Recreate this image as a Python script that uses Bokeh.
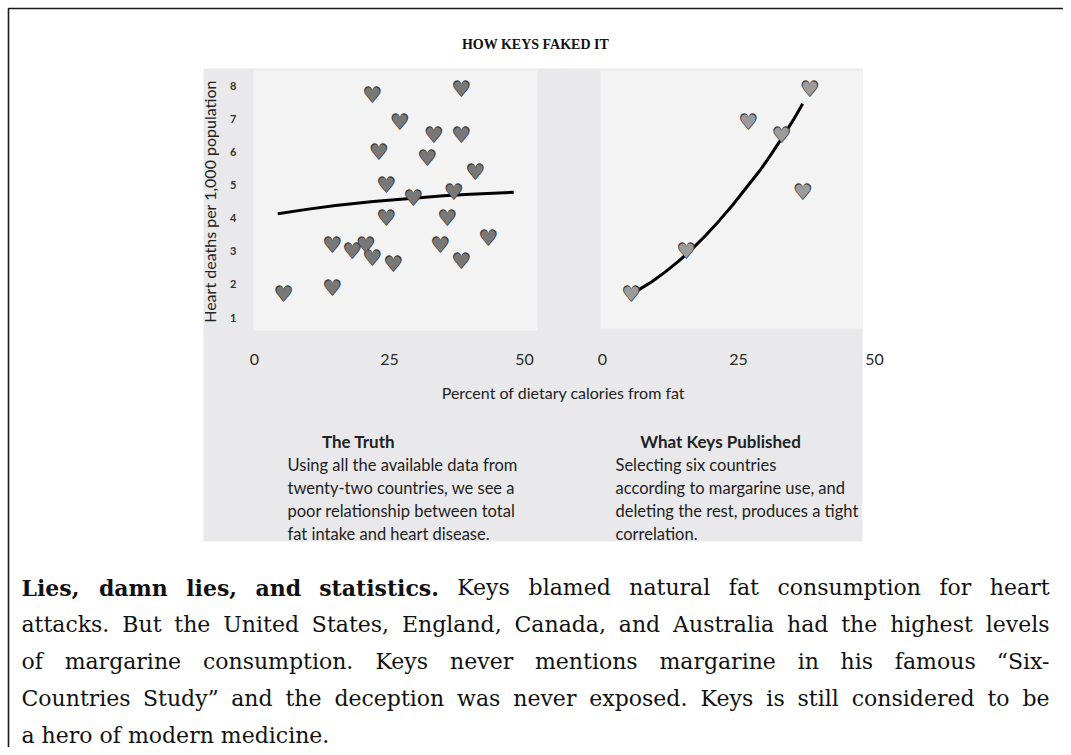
from bokeh.plotting import figure
from bokeh.models import Range1d, LinearAxis, FixedTicker
from bokeh.core.properties import value
from bokeh.embed import file_html
from bokeh.resources import INLINE

# ---------------- data ----------------
title = "HOW KEYS FAKED IT"
x_axis_title = "Percent of dietary calories from fat"
y_axis_title = "Heart deaths per 1,000 population"
x_ticks = [0, 25, 50]
y_ticks = [1, 2, 3, 4, 5, 6, 7, 8]

# "The Truth": all countries
all_fat = [5.4, 14.4, 14.4, 18.1, 20.6, 21.8, 21.8, 23.0, 24.4, 24.4, 25.7, 26.9,
           29.4, 32.0, 33.2, 34.4, 35.7, 36.9, 38.3, 38.3, 38.3, 40.9, 43.3]
all_deaths = [1.7, 1.9, 3.2, 3.0, 3.2, 2.8, 7.7, 6.0, 5.0, 4.0, 2.6, 6.9,
              4.6, 5.8, 6.5, 3.2, 4.0, 4.8, 7.9, 6.5, 2.7, 5.4, 3.4]
truth_fit_fat = [4.3, 10.0, 15.0, 22.0, 29.4, 35.0, 40.0, 48.0]
truth_fit_deaths = [4.13, 4.27, 4.38, 4.50, 4.60, 4.67, 4.72, 4.78]

# "What Keys Published": six countries
six_fat = [5.3, 15.4, 26.8, 32.9, 36.8, 38.1]
six_deaths = [1.7, 3.0, 6.9, 6.5, 4.8, 7.9]
keys_fit_fat = [6.4, 9.0, 11.5, 14.0, 16.5, 19.0, 21.5, 24.0, 26.5, 29.0,
                31.0, 33.0, 35.0, 36.8]
keys_fit_deaths = [1.81, 2.07, 2.37, 2.70, 3.07, 3.48, 3.93, 4.41, 4.93, 5.45,
                   5.92, 6.42, 6.94, 7.45]

panel_titles = ["The Truth", "What Keys Published"]
truth_text = ["Using all the available data from",
              "twenty-two countries, we see a",
              "poor relationship between total",
              "fat intake and heart disease."]
keys_text = ["Selecting six countries",
             "according to margarine use, and",
             "deleting the rest, produces a tight",
             "correlation."]

caption_lines = [
    "Lies, damn lies, and statistics. Keys blamed natural fat consumption for heart",
    "attacks. But the United States, England, Canada, and Australia had the highest levels",
    "of margarine consumption. Keys never mentions margarine in his famous \u201cSix-",
    "Countries Study\u201d and the deception was never exposed. Keys is still considered to be",
    "a hero of modern medicine.",
]
caption_bold_words = 5

# ---------------- layout (page pixels) ----------------
W, H = 1063, 747
BORDER = 8
IMG = dict(left=203, right=862, top=68, bottom=541)
PANEL_L = dict(left=253, right=537, top=70, bottom=330)
PANEL_R = dict(left=600, right=862, top=70, bottom=328)
LX0, LX50 = 254, 524      # page x of 0 and 50 (left panel)
RX0, RX50 = 602, 874      # page x of 0 and 50 (right panel)
Y8, Y1 = 85, 317          # page y of 8 and 1

p = figure(width=W, height=H,
           x_range=Range1d(0, W), y_range=Range1d(H, 0),
           x_axis_location=None, y_axis_location=None,
           toolbar_location=None, output_backend="svg", min_border=0)
p.grid.visible = False
p.outline_line_color = None
p.background_fill_color = "white"
p.border_fill_color = "white"


def data_range(pa, pb, va, vb, lo, hi):
    s = (vb - va) / (pb - pa)
    return Range1d(start=va + (lo - pa) * s, end=va + (hi - pa) * s)


p.extra_x_ranges = {
    "lx": data_range(LX0, LX50, 0, 50, 0, W),
    "rx": data_range(RX0, RX50, 0, 50, 0, W),
}
p.extra_y_ranges = {"dy": data_range(Y1, Y8, 1, 8, H, 0)}

# frame lines (top and left)
p.line(x=[BORDER, BORDER, W], y=[H, BORDER, BORDER],
       line_color="#1a1a1a", line_width=1.6)

# title
p.text(x=[535], y=[44], text=[title], text_font=value("Liberation Serif"),
       text_font_style="bold", text_font_size="14px", text_color="#111111",
       text_align="center", text_baseline="middle")

# picture background and panels
p.quad(left=IMG["left"], right=IMG["right"], top=IMG["top"], bottom=IMG["bottom"],
       fill_color="#e9e9eb", line_color=None)
for pan in (PANEL_L, PANEL_R):
    p.quad(left=pan["left"], right=pan["right"], top=pan["top"], bottom=pan["bottom"],
           fill_color="#f3f3f3", line_color=None)

# axes
for rng in ("lx", "rx"):
    ax = LinearAxis(x_range_name=rng, fixed_location=350,
                    ticker=FixedTicker(ticks=x_ticks),
                    axis_line_color=None, major_tick_line_color=None,
                    minor_tick_line_color=None, major_tick_out=0, major_tick_in=0,
                    major_label_standoff=3, major_label_text_font="Lato",
                    major_label_text_font_size="16px",
                    major_label_text_color="#2a2a2a")
    p.add_layout(ax, "below")

ay = LinearAxis(y_range_name="dy", fixed_location=239, bounds=(1, 8),
                ticker=FixedTicker(ticks=y_ticks),
                axis_line_color=None, major_tick_line_color=None,
                minor_tick_line_color=None, major_tick_out=0, major_tick_in=0,
                major_label_standoff=3, major_label_text_font="Lato",
                major_label_text_font_size="11px", major_label_text_font_style="bold",
                major_label_text_color="#333333",
                axis_label=y_axis_title, axis_label_text_font="Lato",
                axis_label_text_font_size="16px", axis_label_text_font_style="normal",
                axis_label_text_color="#222222", axis_label_standoff=8)
p.add_layout(ay, "left")

p.text(x=[563], y=[392], text=[x_axis_title], text_font=value("Lato"),
       text_font_size="16px", text_color="#222222",
       text_align="center", text_baseline="middle")

# trend lines
p.line(truth_fit_fat, truth_fit_deaths, x_range_name="lx", y_range_name="dy",
       line_color="black", line_width=3, line_join="round")
p.line(keys_fit_fat, keys_fit_deaths, x_range_name="rx", y_range_name="dy",
       line_color="black", line_width=3, line_join="round")

# hearts
for xs, ys, rng, fill in ((all_fat, all_deaths, "lx", "#787878"),
                          (six_fat, six_deaths, "rx", "#9c9c9c")):
    hearts = ["\u2665"] * len(xs)
    p.text(x=xs, y=ys, text=hearts, x_range_name=rng, y_range_name="dy",
           text_font=value("DejaVu Sans"), text_font_size="23px",
           text_color="#3a3a3a", text_align="center", text_baseline="middle")
    p.text(x=xs, y=ys, text=hearts, x_range_name=rng, y_range_name="dy",
           text_font=value("DejaVu Sans"), text_font_size="20px",
           text_color=fill, text_align="center", text_baseline="middle")

# panel texts
for cx, t in zip((358, 720), panel_titles):
    p.text(x=[cx], y=[441], text=[t], text_font=value("Lato"),
           text_font_size="17px", text_font_style="bold", text_color="#222222",
           text_align="center", text_baseline="middle")
para_y = [464, 487, 510, 533]
for lx, lines in ((287, truth_text), (615, keys_text)):
    p.text(x=[lx] * len(lines), y=para_y, text=lines, text_font=value("Lato"),
           text_font_size="16.5px", text_color="#1e1e1e",
           text_align="left", text_baseline="middle")

# caption, justified word by word
CW = {' ': .318, 'a': .596, 'b': .640, 'c': .562, 'd': .640, 'e': .592, 'f': .370,
      'g': .640, 'h': .645, 'i': .320, 'j': .310, 'k': .607, 'l': .320, 'm': .950,
      'n': .645, 'o': .602, 'p': .640, 'q': .640, 'r': .478, 's': .513, 't': .402,
      'u': .645, 'v': .565, 'w': .856, 'x': .564, 'y': .565, 'z': .527,
      'A': .722, 'B': .735, 'C': .765, 'D': .802, 'E': .730, 'F': .694, 'K': .747,
      'L': .664, 'S': .685, 'U': .843, 'Y': .660, '.': .318, ',': .318, '-': .338,
      '\u201c': .46, '\u201d': .46}
CAP_X0, CAP_X1 = 21, 1049
CAP_Y = [587, 624, 661, 698, 735]
CAP_SIZE = 22


def est(word, bold):
    return sum(CW.get(ch, .65) for ch in word) * CAP_SIZE * (1.11 if bold else 1.0)


groups = {}
for i, line in enumerate(caption_lines):
    words = line.split(" ")
    if i == len(caption_lines) - 1:
        groups.setdefault(("left", False), []).append((CAP_X0, CAP_Y[i], line))
        continue
    bolds = [(i == 0 and j < caption_bold_words) for j in range(len(words))]
    widths = [est(w, b) for w, b in zip(words, bolds)]
    gap = (CAP_X1 - CAP_X0 - sum(widths)) / (len(words) - 1)
    pos = CAP_X0
    for j, (w, b, wd) in enumerate(zip(words, bolds, widths)):
        if j == 0:
            key, x = ("left", b), CAP_X0
        elif j == len(words) - 1:
            key, x = ("right", b), CAP_X1
        else:
            key, x = ("center", b), pos + wd / 2
        groups.setdefault(key, []).append((x, CAP_Y[i], w))
        pos += wd + gap

for (align, bold), items in groups.items():
    p.text(x=[it[0] for it in items], y=[it[1] for it in items],
           text=[it[2] for it in items], text_font=value("DejaVu Serif"),
           text_font_size=f"{CAP_SIZE}px",
           text_font_style="bold" if bold else "normal",
           text_color="#111111", text_align=align, text_baseline="middle")

open("out.html", "w").write(file_html(p, INLINE))
